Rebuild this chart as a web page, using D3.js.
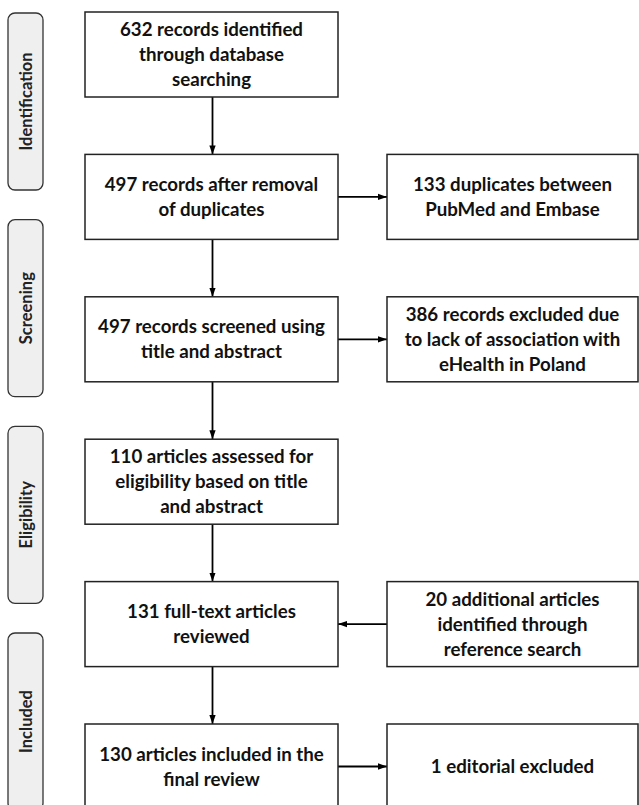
<!DOCTYPE html>
<html>
<head>
<meta charset="utf-8">
<script src="https://cdn.jsdelivr.net/npm/d3@7"></script>
<style>
  body { margin: 0; background: #fff; }
  svg { display: block; }
  text { font-family: Lato, "Open Sans", sans-serif; font-weight: bold; }
</style>
</head>
<body>
<svg></svg>
<script>
const WIDTH = 639;
const HEIGHT = 805;

// Phase labels down the left side.
const phases = ['Identification', 'Screening', 'Eligibility', 'Included'];

// Main column, one box per row.
const mainSteps = [
  ['632 records identified', 'through database', 'searching'],
  ['497 records after removal', 'of duplicates'],
  ['497 records screened using', 'title and abstract'],
  ['110 articles assessed for', 'eligibility based on title', 'and abstract'],
  ['131 full-text articles', 'reviewed'],
  ['130 articles included  in the', 'final review'],
];

// Side boxes: row index, text, arrow direction.
const sideRows = [1, 2, 4, 5];
const sideSteps = [
  ['133 duplicates between', 'PubMed and Embase'],
  ['386 records excluded due', 'to lack of association with', 'eHealth in Poland'],
  ['20 additional  articles', 'identified through', 'reference search'],
  ['1 editorial excluded'],
];
const sideDirection = ['out', 'out', 'in', 'out'];

window.onload = () => {
  const svg = d3.select('svg')
      .attr('width', WIDTH)
      .attr('height', HEIGHT);

  const defs = svg.append('defs');
  defs.append('marker')
      .attr('id', 'arrow')
      .attr('viewBox', '0 0 10 10')
      .attr('refX', 10)
      .attr('refY', 5)
      .attr('markerWidth', 9)
      .attr('markerHeight', 9)
      .attr('markerUnits', 'userSpaceOnUse')
      .attr('orient', 'auto')
    .append('path')
      .attr('d', 'M0,1.5L10,5L0,8.5Z')
      .attr('fill', '#000');

  // Row positions
  const rowY = d3.scaleLinear().domain([0, 5]).range([12, 724]);
  const BOX_H = 85;
  const mainX = d3.scaleLinear().domain([0, 1]).range([85, 338]);
  const sideX = d3.scaleLinear().domain([0, 1]).range([387, 638]);
  const phaseY = d3.scaleLinear().domain([0, 3]).range([13, 633]);
  const PHASE_H = 177;

  // Phase labels
  const phase = svg.append('g').selectAll('g')
      .data(phases)
      .join('g')
      .attr('transform', (d, i) => `translate(8,${phaseY(i)})`);
  phase.append('rect')
      .attr('width', 35)
      .attr('height', PHASE_H)
      .attr('rx', 7)
      .attr('fill', '#efefef')
      .attr('stroke', '#333')
      .attr('stroke-width', 1.3);
  phase.append('text')
      .attr('transform', `translate(23.5,${PHASE_H / 2}) rotate(-90)`)
      .attr('text-anchor', 'middle')
      .attr('font-size', 16.5)
      .attr('fill', '#222')
      .text((d) => d);

  function drawBox(g, x0, x1, y0, lines) {
    g.append('rect')
        .attr('x', x0)
        .attr('y', y0)
        .attr('width', x1 - x0)
        .attr('height', BOX_H)
        .attr('fill', '#fff')
        .attr('stroke', '#222')
        .attr('stroke-width', 1.5);
    const cx = (x0 + x1) / 2;
    const cy = y0 + BOX_H / 2;
    const step = 25;
    g.append('text')
        .attr('text-anchor', 'middle')
        .attr('font-size', 18.7)
        .attr('fill', '#111')
        .selectAll('tspan')
        .data(lines)
        .join('tspan')
        .attr('x', cx)
        .attr('y', (d, i) => cy + (i - (lines.length - 1) / 2) * step + 6.5)
        .text((d) => d);
  }

  const arrows = svg.append('g')
      .attr('stroke', '#000')
      .attr('stroke-width', 1.8);

  // Vertical arrows between main boxes
  const mid = (mainX(0) + mainX(1)) / 2 + 1;
  d3.range(mainSteps.length - 1).forEach((i) => {
    arrows.append('line')
        .attr('x1', mid)
        .attr('x2', mid)
        .attr('y1', rowY(i) + BOX_H)
        .attr('y2', rowY(i + 1))
        .attr('marker-end', 'url(#arrow)');
  });

  // Horizontal arrows to/from side boxes
  sideRows.forEach((r, i) => {
    const y = rowY(r) + BOX_H / 2;
    const a = sideDirection[i] === 'out' ? [mainX(1), sideX(0)] : [sideX(0), mainX(1)];
    arrows.append('line')
        .attr('x1', a[0])
        .attr('x2', a[1])
        .attr('y1', y)
        .attr('y2', y)
        .attr('marker-end', 'url(#arrow)');
  });

  const boxes = svg.append('g');
  mainSteps.forEach((lines, i) => {
    drawBox(boxes, mainX(0), mainX(1), rowY(i), lines);
  });
  sideSteps.forEach((lines, i) => {
    drawBox(boxes, sideX(0), sideX(1), rowY(sideRows[i]), lines);
  });
};
</script>
</body>
</html>
